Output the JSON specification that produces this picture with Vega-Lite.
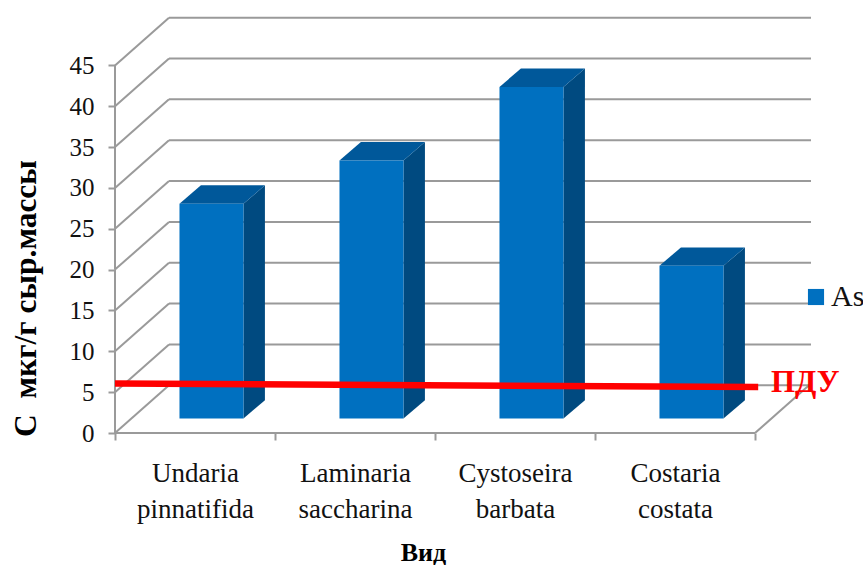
{
"$schema":"https://vega.github.io/schema/vega-lite/v6.json",
"width":696,"height":415,"autosize":{"type":"none"},
"padding":{"left":115,"top":18,"right":52,"bottom":132},
"background":"white",
"config":{"view":{"stroke":null},"font":"Liberation Serif"},
"datasets":{
"bars":[
{"species":"Undaria pinnatifida","pos":0,"value":26.3,"series":"As"},
{"species":"Laminaria saccharina","pos":1,"value":31.6,"series":"As"},
{"species":"Cystoseira barbata","pos":2,"value":40.6,"series":"As"},
{"species":"Costaria costata","pos":3,"value":18.7,"series":"As"}],
"ticks":[{"v":0},{"v":5},{"v":10},{"v":15},{"v":20},{"v":25},{"v":30},{"v":35},{"v":40},{"v":45}],
"limit":[{"x":0,"y":6.05,"name":"ПДУ"},{"x":4.02,"y":5.63,"name":"ПДУ"}]
},
"encoding":{
"x":{"field":"x","type":"quantitative","scale":{"domain":[0,4.35],"nice":false,"zero":false},
 "axis":{"values":[0,0.5,1,1.5,2,2.5,3,3.5,4],"grid":false,"domain":false,"tickSize":7,"tickWidth":2,"tickColor":"#9a9a9a","tickOpacity":{"expr":"datum.value%1==0?1:0"},
  "labelExpr":"datum.value==0.5?['Undaria','pinnatifida']:datum.value==1.5?['Laminaria','saccharina']:datum.value==2.5?['Cystoseira','barbata']:datum.value==3.5?['Costaria','costata']:''",
  "labelFont":"Liberation Serif","labelFontSize":27,"labelLineHeight":36,"labelColor":"#111111","labelOverlap":false,"labelFlush":false,"labelPadding":20,"labelBound":false,
  "title":"Вид","titleFont":"Liberation Serif","titleFontSize":26,"titleFontWeight":"bold","titleColor":"black","titleX":308,"titleY":127,"titleBaseline":"alphabetic"}},
"y":{"field":"y","type":"quantitative","scale":{"domain":[0,50.8],"nice":false,"zero":false},
 "axis":{"values":[0,5,10,15,20,25,30,35,40,45],"grid":false,"domain":false,"tickSize":7,"tickWidth":2,"tickColor":"#9a9a9a",
  "labelFont":"Liberation Serif","labelFontSize":25,"labelColor":"#111111","labelPadding":14,"labelOverlap":false,
  "title":"С \u00a0мкг/г сыр.массы","titleFont":"Liberation Serif","titleFontSize":31.5,"titleFontWeight":"bold","titleColor":"black","titleX":-80,"titleY":280,"titleBaseline":"alphabetic"}}
},
"layer":[
{"data":{"name":"ticks"},"transform":[{"calculate":"0","as":"x"},{"calculate":"0.3375","as":"xb"},{"calculate":"datum.v","as":"y"},{"calculate":"datum.v+5.84","as":"yb"}],
 "mark":{"type":"rule","color":"#9a9a9a","strokeWidth":2},"encoding":{"x2":{"field":"xb"},"y2":{"field":"yb"}}},
{"data":{"name":"ticks"},"transform":[{"calculate":"0.3375","as":"x"},{"calculate":"4.35","as":"xb"},{"calculate":"datum.v+5.84","as":"y"}],
 "mark":{"type":"rule","color":"#9a9a9a","strokeWidth":2},"encoding":{"x2":{"field":"xb"},"y2":{"field":"y"}}},
{"data":{"name":"ticks"},"transform":[{"filter":"datum.v<45"},{"calculate":"0","as":"x"},{"calculate":"datum.v","as":"y"},{"calculate":"datum.v+5","as":"yb"}],
 "mark":{"type":"rule","color":"#9a9a9a","strokeWidth":2},"encoding":{"x2":{"field":"x"},"y2":{"field":"yb"}}},
{"data":{"name":"bars"},"transform":[{"calculate":"datum.pos","as":"x"},{"calculate":"datum.pos+1","as":"xb"},{"calculate":"0","as":"y"}],
 "mark":{"type":"rule","color":"#9a9a9a","strokeWidth":2},"encoding":{"x2":{"field":"xb"},"y2":{"field":"y"}}},
{"data":{"name":"bars"},"transform":[{"filter":"datum.pos==3"},{"calculate":"4","as":"x"},{"calculate":"4.3375","as":"xb"},{"calculate":"0","as":"y"},{"calculate":"5.84","as":"yb"}],
 "mark":{"type":"rule","color":"#9a9a9a","strokeWidth":2},"encoding":{"x2":{"field":"xb"},"y2":{"field":"yb"}}},
{"data":{"name":"bars"},"transform":[{"calculate":"[0,1]","as":"d"},{"flatten":["d"]},{"calculate":"datum.pos+0.803+0.134*datum.d","as":"x"},{"calculate":"datum.value+1.76+2.26*datum.d","as":"y"},{"calculate":"1.76+2.26*datum.d","as":"yb"}],
 "mark":{"type":"area","color":"#004a80","opacity":1},"encoding":{"y2":{"field":"yb"},"detail":{"field":"species"}}},
{"data":{"name":"bars"},"transform":[{"calculate":"[0,1]","as":"d"},{"flatten":["d"]},{"calculate":"datum.pos+0.403+0.134*datum.d","as":"x"},{"calculate":"datum.x+0.4","as":"xb"},{"calculate":"datum.value+1.76+2.26*datum.d","as":"y"}],
 "mark":{"type":"area","color":"#00589a","opacity":1,"orient":"horizontal"},"encoding":{"x2":{"field":"xb"},"detail":{"field":"species"}}},
{"data":{"name":"bars"},"transform":[{"calculate":"datum.pos+0.403","as":"x"},{"calculate":"datum.pos+0.803","as":"xb"},{"calculate":"1.76","as":"yb"},{"calculate":"datum.value+1.76","as":"y"}],
 "mark":{"type":"rect"},"encoding":{"x2":{"field":"xb"},"y2":{"field":"yb"},
  "color":{"field":"series","type":"nominal","scale":{"range":["#0070c0"]},
   "legend":{"title":null,"orient":"none","legendX":686,"legendY":264,"symbolType":"square","symbolSize":260,"symbolStrokeWidth":0,"symbolOpacity":1,"labelFont":"Liberation Serif","labelFontSize":30,"labelColor":"#111111","labelOffset":0}}}},
{"data":{"name":"limit"},"mark":{"type":"line","color":"#ff0000","strokeWidth":6.5,"strokeCap":"butt"}},
{"data":{"name":"limit"},"transform":[{"filter":"datum.x>0"},{"calculate":"datum.x+0.08","as":"x"},{"calculate":"5","as":"y"}],
 "mark":{"type":"text","color":"#ff0000","font":"Liberation Serif","fontWeight":"bold","fontSize":31,"align":"left","baseline":"alphabetic"},"encoding":{"text":{"field":"name"}}}
]
}
